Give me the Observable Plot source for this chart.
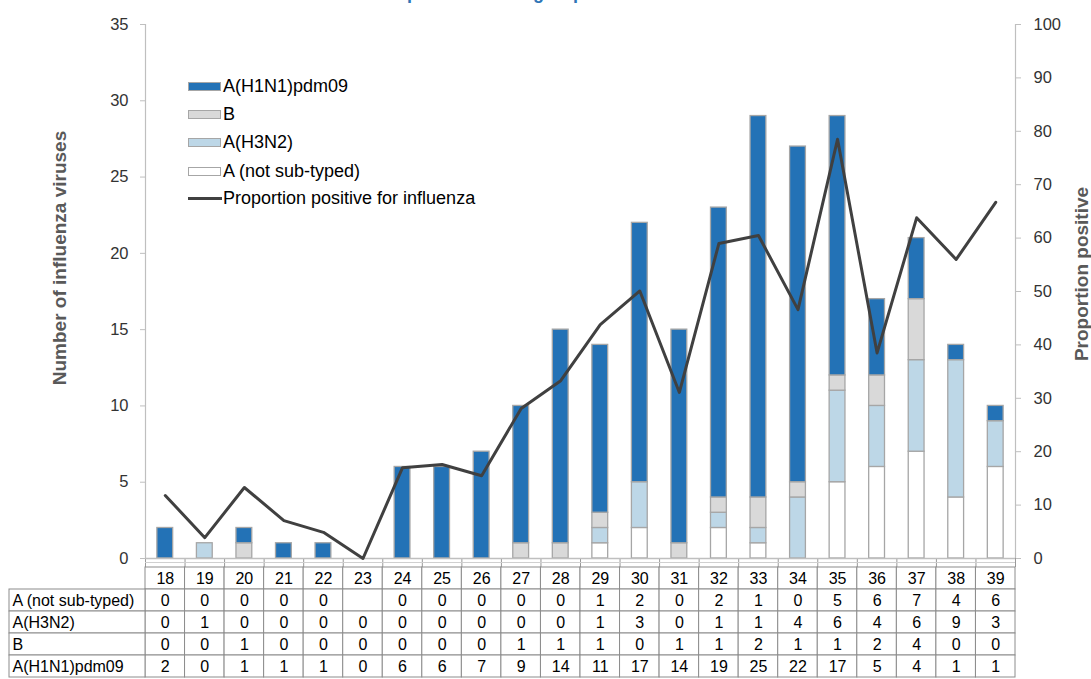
<!DOCTYPE html>
<html>
<head>
<meta charset="utf-8">
<script src="https://cdn.jsdelivr.net/npm/d3@7"></script>
<script src="https://cdn.jsdelivr.net/npm/@observablehq/plot@0.6"></script>
<style>
  body { margin: 0; background: #fff; font-family: Arial, "Liberation Sans", sans-serif; }
  #wrap { position: relative; width: 1091px; height: 679px; overflow: hidden; background: #fff; }
  #wrap svg { display: block; }
  .title { position: absolute; top: -18px; left: 324px; font-size: 18px; line-height: 22px; font-weight: bold; color: #2e75b6; white-space: nowrap; }
  .ytitle { position: absolute; font-size: 19px; font-weight: bold; color: #595959; white-space: nowrap; transform: translate(-50%, -50%) rotate(-90deg); }
  .li { position: absolute; left: 188px; height: 20px; display: flex; align-items: center; font-size: 18px; color: #000; white-space: nowrap; transform: translateY(-50%); }
  .sw { width: 33px; height: 9px; box-sizing: border-box; border: 1px solid #a6a6a6; margin-right: 2px; }
  .ln { width: 34px; height: 3px; background: #404040; margin-right: 1px; }
</style>
</head>
<body>
<div id="wrap"></div>
<script>
// ---- data ----
const weeks = [18,19,20,21,22,23,24,25,26,27,28,29,30,31,32,33,34,35,36,37,38,39];
const notSubtyped = [0,0,0,0,0,null,0,0,0,0,0,1,2,0,2,1,0,5,6,7,4,6];
const h3n2        = [0,1,0,0,0,0,0,0,0,0,0,1,3,0,1,1,4,6,4,6,9,3];
const typeB       = [0,0,1,0,0,0,0,0,0,1,1,1,0,1,1,2,1,1,2,4,0,0];
const h1n1        = [2,0,1,1,1,0,6,6,7,9,14,11,17,14,19,25,22,17,5,4,1,1];
const proportion  = [11.8,3.9,13.3,7.1,4.9,0,17.0,17.6,15.5,28.1,33.3,43.8,50.1,31.1,59.0,60.5,46.6,78.5,38.5,63.8,56.0,66.7];

const seriesNames  = ["A (not sub-typed)", "A(H3N2)", "B", "A(H1N1)pdm09"];
const seriesValues = [notSubtyped, h3n2, typeB, h1n1];
const seriesColors = ["#ffffff", "#bdd7e7", "#d9d9d9", "#2372b6"];
const lineLabel = "Proportion positive for influenza";
const leftTicks  = [0,5,10,15,20,25,30,35];
const rightTicks = [0,10,20,30,40,50,60,70,80,90,100];
const yMax = 35;
const titleText = "Influenza positive in the group";
const yLeftTitle = "Number of influenza viruses";
const yRightTitle = "Proportion positive";

// ---- derived tables ----
const barData = [];
seriesNames.forEach((s, k) => weeks.forEach((w, i) => {
  const v = seriesValues[k][i];
  if (v) barData.push({week: w, series: s, value: v});
}));
const lineData = weeks.map((w, i) => ({week: w, p: proportion[i]}));

const W = 1091, mL = 145, mR = 76, mT = 24;
const mainH = 567, mB = 9;
const step = (W - mL - mR) / weeks.length;
const pxPerUnit = (mainH - mT - mB) / yMax;
const font = 'Arial, "Liberation Sans", sans-serif';

const main = Plot.plot({
  width: W, height: mainH,
  marginLeft: mL, marginRight: mR, marginTop: mT, marginBottom: mB,
  style: {fontFamily: font, fontSize: "16px", color: "#333", background: "white", overflow: "visible"},
  x: {type: "band", domain: weeks, paddingInner: 0.6, paddingOuter: 0.3, round: false, axis: null},
  y: {domain: [0, yMax], axis: null},
  color: {domain: seriesNames, range: seriesColors},
  marks: [
    Plot.axisY(leftTicks, {anchor: "left", tickSize: 5, tickPadding: 12, stroke: "#bfbfbf", fill: "#333", label: null, fontSize: 16.5}),
    Plot.axisY(rightTicks.map(v => v * yMax / 100), {anchor: "right", tickSize: 5, tickPadding: 13, stroke: "#bfbfbf", fill: "#333", label: null, fontSize: 16.5, tickFormat: d => String(Math.round(d * 100 / yMax))}),
    Plot.ruleX([0], {x: () => weeks[0], y1: 0, y2: yMax, dx: -step / 2, stroke: "#bfbfbf", strokeWidth: 1.2}),
    Plot.ruleX([0], {x: () => weeks[weeks.length - 1], y1: 0, y2: yMax, dx: step / 2, stroke: "#bfbfbf", strokeWidth: 1.2}),
    Plot.ruleX(weeks, {x: d => d, y1: 0, y2: -mB / pxPerUnit, dx: -step / 2, stroke: "#999"}),
    Plot.ruleX([weeks[weeks.length - 1]], {x: d => d, y1: 0, y2: -mB / pxPerUnit, dx: step / 2, stroke: "#999"}),
    Plot.ruleY([0], {stroke: "#d0d0d0", strokeWidth: 1, dy: 4}),
    Plot.barY(barData, {x: "week", y: "value", fill: "series", order: seriesNames, stroke: "#a6a6a6", strokeWidth: 1.3}),
    Plot.ruleY([0], {stroke: "#bfbfbf", strokeWidth: 1.5}),
    Plot.line(lineData, {x: "week", y: d => d.p * yMax / 100, stroke: "#404040", strokeWidth: 3})
  ]
});

// ---- data table under the chart ----
const rows = ["week", ...seriesNames];
const cells = [];
weeks.forEach((w, i) => cells.push({row: "week", week: w, text: String(w)}));
seriesNames.forEach((s, k) => weeks.forEach((w, i) => {
  const v = seriesValues[k][i];
  cells.push({row: s, week: w, text: v == null ? "" : String(v)});
}));
const labelW = 136;
const table = Plot.plot({
  width: W, height: 112,
  marginLeft: mL, marginRight: mR, marginTop: 0, marginBottom: 2,
  style: {fontFamily: font, fontSize: "16px", color: "#000", background: "white", overflow: "visible"},
  x: {type: "band", domain: weeks, padding: 0, round: false, axis: null},
  y: {type: "band", domain: rows, padding: 0, round: false, axis: null},
  marks: [
    Plot.cell(cells, {x: "week", y: "row", fill: "white", stroke: "#8c8c8c"}),
    Plot.cell(seriesNames, {x: () => weeks[0], y: d => d, fill: "white", stroke: "#8c8c8c", insetLeft: -labelW, insetRight: step}),
    Plot.text(cells, {x: "week", y: "row", text: "text", fill: "#000", fontSize: 16}),
    Plot.text(seriesNames, {x: () => weeks[0], y: d => d, text: d => d, textAnchor: "start", dx: -step / 2 - labelW + 3, fill: "#000", fontSize: 16})
  ]
});

const wrap = document.getElementById("wrap");
wrap.appendChild(main);
wrap.appendChild(table);

// title (cut off at the top edge, as in the source image)
const t = document.createElement("div");
t.className = "title"; t.textContent = titleText;
wrap.appendChild(t);

// axis titles
const yl = document.createElement("div");
yl.className = "ytitle"; yl.textContent = yLeftTitle;
yl.style.left = "60px"; yl.style.top = "258px";
wrap.appendChild(yl);
const yr = document.createElement("div");
yr.className = "ytitle"; yr.textContent = yRightTitle;
yr.style.left = "1082px"; yr.style.top = "274px";
wrap.appendChild(yr);

// legend
const legendItems = [
  {label: seriesNames[3], color: seriesColors[3]},
  {label: seriesNames[2], color: seriesColors[2]},
  {label: seriesNames[1], color: seriesColors[1]},
  {label: seriesNames[0], color: seriesColors[0]},
  {label: lineLabel, line: true}
];
const legendY = [86, 114, 142.5, 171, 198];
legendItems.forEach((it, i) => {
  const d = document.createElement("div");
  d.className = "li";
  d.style.top = legendY[i] + "px";
  const s = document.createElement("span");
  if (it.line) { s.className = "ln"; } else { s.className = "sw"; s.style.background = it.color; }
  d.appendChild(s);
  const tx = document.createElement("span");
  tx.textContent = it.label;
  d.appendChild(tx);
  wrap.appendChild(d);
});
</script>
</body>
</html>
